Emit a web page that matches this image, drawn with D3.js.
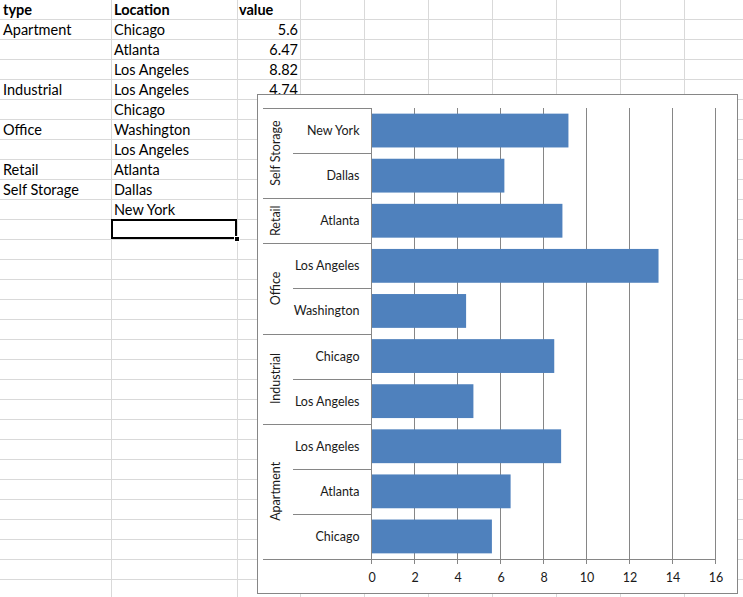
<!DOCTYPE html>
<html>
<head>
<meta charset="utf-8">
<script src="https://cdn.jsdelivr.net/npm/d3@7"></script>
<style>
  html, body { margin: 0; padding: 0; background: #fff; overflow: hidden; }
  svg { display: block; }
</style>
</head>
<body>
<svg id="chart" width="743" height="597"></svg>
<script>
// ---- data ----
const headers = ["type", "Location", "value"];
const rowTypes = ["Apartment", "Apartment", "Apartment", "Industrial", "Industrial", "Office", "Office", "Retail", "Self Storage", "Self Storage"];
const locations = ["Chicago", "Atlanta", "Los Angeles", "Los Angeles", "Chicago", "Washington", "Los Angeles", "Atlanta", "Dallas", "New York"];
const values = [5.6, 6.47, 8.82, 4.74, 8.5, 4.4, 13.35, 8.88, 6.18, 9.16];
const xTicks = [0, 2, 4, 6, 8, 10, 12, 14, 16];

const W = 743, H = 597;
const svg = d3.select("#chart");
const cellFont = "Lato, 'Open Sans', sans-serif";

// ---- spreadsheet background ----
const colLines = [111, 237, 300, 364, 428, 492, 556, 620, 684];
const rowCount = 30;
const grid = svg.append("g").attr("stroke", "#d9d9d9").attr("stroke-width", 1);
d3.range(rowCount).forEach(k => {
  const y = 19 + 20 * k + 0.5;
  grid.append("line").attr("x1", 0).attr("x2", W).attr("y1", y).attr("y2", y);
});
colLines.forEach(x => {
  grid.append("line").attr("x1", x + 0.5).attr("x2", x + 0.5).attr("y1", 0).attr("y2", H);
});

const cells = svg.append("g").attr("font-family", cellFont).attr("font-size", 14.5).attr("fill", "#000");
// header
cells.append("text").attr("x", 3).attr("y", 15).attr("font-weight", "bold").text(headers[0]);
cells.append("text").attr("x", 114).attr("y", 15).attr("font-weight", "bold").text(headers[1]);
cells.append("text").attr("x", 239).attr("y", 15).attr("font-weight", "bold").text(headers[2]);
rowTypes.forEach((t, i) => {
  const y = 15 + 20 * (i + 1);
  if (i === 0 || rowTypes[i - 1] !== t) cells.append("text").attr("x", 3).attr("y", y).text(t);
  cells.append("text").attr("x", 114).attr("y", y).text(locations[i]);
  cells.append("text").attr("x", 298).attr("y", y).attr("text-anchor", "end").text(String(values[i]));
});
// selected cell
svg.append("rect").attr("x", 112).attr("y", 220).attr("width", 124).attr("height", 18)
  .attr("fill", "none").attr("stroke", "#000").attr("stroke-width", 2);
svg.append("rect").attr("x", 234.5).attr("y", 236.5).attr("width", 5).attr("height", 5)
  .attr("fill", "#000").attr("stroke", "#fff").attr("stroke-width", 1);

// ---- chart object ----
svg.append("rect").attr("x", 257.5).attr("y", 94.5).attr("width", 480).attr("height", 499)
  .attr("fill", "#fff").attr("stroke", "#868686").attr("stroke-width", 1);

const plot = { left: 371, right: 715, top: 108, bottom: 559 };
const labelLeft = 263, innerLeft = 293;
const axisColor = "#868686";
const textColor = "#1a1a1a";
const chartFont = "Lato, 'Open Sans', sans-serif";

const idx = d3.range(values.length);
const y = d3.scaleBand().domain(idx.slice().reverse()).range([plot.top, plot.bottom])
  .paddingInner(0.25).paddingOuter(0.125);
const x = d3.scaleLinear().domain([0, 16]).range([plot.left, plot.right]);

// vertical gridlines
const g = svg.append("g");
g.selectAll("line.grid").data(xTicks).join("line")
  .attr("x1", d => Math.round(x(d)) + 0.5).attr("x2", d => Math.round(x(d)) + 0.5)
  .attr("y1", plot.top).attr("y2", plot.bottom + 5)
  .attr("stroke", axisColor).attr("stroke-width", 1);

// bars
g.selectAll("rect.bar").data(idx).join("rect")
  .attr("x", x(0) + 0.5)
  .attr("y", i => y(i))
  .attr("width", i => x(values[i]) - x(0))
  .attr("height", y.bandwidth())
  .attr("fill", "#4f81bd");

// category separators
const step = y.step();
const bandTop = i => y(i) - y.paddingInner() * step / 2;
const bandBottom = i => bandTop(i) + step;
const lines = svg.append("g").attr("stroke", axisColor).attr("stroke-width", 1);
// top line
lines.append("line").attr("x1", labelLeft).attr("x2", plot.left + 1)
  .attr("y1", plot.top + 0.5).attr("y2", plot.top + 0.5);
// bottom axis line
lines.append("line").attr("x1", labelLeft).attr("x2", plot.right + 1)
  .attr("y1", plot.bottom + 0.5).attr("y2", plot.bottom + 0.5);
// category axis line
lines.append("line").attr("x1", plot.left + 0.5).attr("x2", plot.left + 0.5)
  .attr("y1", plot.top).attr("y2", plot.bottom + 5);
idx.forEach(i => {
  if (i === 0) return;
  const yy = Math.round(bandBottom(i)) + 0.5;
  const newGroup = rowTypes[i] !== rowTypes[i - 1];
  lines.append("line").attr("x1", newGroup ? labelLeft : innerLeft).attr("x2", plot.left + 1)
    .attr("y1", yy).attr("y2", yy);
});

// category labels
const labels = svg.append("g").attr("font-family", chartFont).attr("font-size", 12.5).attr("fill", textColor);
idx.forEach(i => {
  labels.append("text").attr("x", 359.5).attr("y", y(i) + y.bandwidth() / 2)
    .attr("text-anchor", "end").attr("dominant-baseline", "central").text(locations[i]);
});
// group labels
const groups = [];
rowTypes.forEach((t, i) => {
  if (i === 0 || rowTypes[i - 1] !== t) groups.push({ name: t, first: i, last: i });
  else groups[groups.length - 1].last = i;
});
groups.forEach(gr => {
  const yc = (bandBottom(gr.first) + bandTop(gr.last)) / 2;
  labels.append("text")
    .attr("transform", `translate(275,${yc}) rotate(-90)`)
    .attr("text-anchor", "middle").attr("dominant-baseline", "central")
    .text(gr.name);
});

// value axis tick labels
labels.selectAll("text.tick").data(xTicks).join("text")
  .attr("x", d => x(d) + 1).attr("y", 577.5)
  .attr("text-anchor", "middle").attr("dominant-baseline", "central")
  .text(d => d);
</script>
</body>
</html>
